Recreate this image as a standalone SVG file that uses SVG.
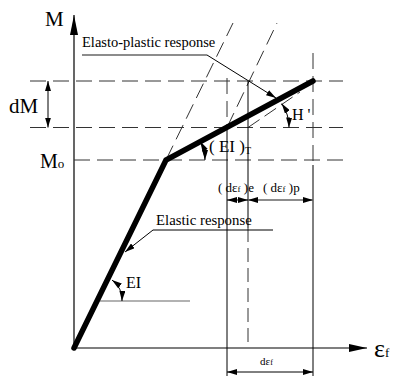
<svg xmlns="http://www.w3.org/2000/svg" width="398" height="377" viewBox="0 0 398 377">
<style>
text{font-family:"Liberation Serif","Times New Roman",serif;fill:#000}
.ax{stroke:#000;stroke-width:1.2;fill:none}
.dash{stroke:#333;stroke-width:1;fill:none;stroke-dasharray:16 7}
.thin{stroke:#000;stroke-width:1;fill:none}
.gray{stroke:#666;stroke-width:1.6;fill:none}
.thick{stroke:#000;stroke-width:5.5;fill:none;stroke-linecap:round;stroke-linejoin:miter}
</style>
<defs>
<marker id="ah" viewBox="0 0 10 6" refX="10" refY="3" markerWidth="10" markerHeight="6" markerUnits="userSpaceOnUse" orient="auto-start-reverse"><path d="M0,0 L10,3 L0,6 z" fill="#000"/></marker>
<marker id="axh" viewBox="0 0 18 8" refX="18" refY="4" markerWidth="18" markerHeight="8" markerUnits="userSpaceOnUse" orient="auto"><path d="M0,0 L18,4 L0,8 z" fill="#000"/></marker>
<marker id="ayh" viewBox="0 0 20 8" refX="20" refY="4" markerWidth="20" markerHeight="8" markerUnits="userSpaceOnUse" orient="auto"><path d="M0,0 L20,4 L0,8 z" fill="#000"/></marker>
</defs>
<g id="connectors">
<!-- axes -->
<line class="ax" x1="74" y1="348" x2="74" y2="15" marker-end="url(#ayh)"/>
<line class="ax" x1="74" y1="348" x2="367" y2="348" marker-end="url(#axh)"/>
<!-- horizontal dashed levels -->
<line class="dash" x1="30" y1="81" x2="343" y2="81"/>
<line class="dash" x1="30" y1="127.5" x2="343" y2="127.5"/>
<line class="dash" x1="74" y1="160" x2="343" y2="160"/>
<!-- dM dimension -->
<line class="thin" x1="48" y1="81" x2="48" y2="127.5" marker-start="url(#ah)" marker-end="url(#ah)"/>
<!-- diagonal dashed elastic slopes -->
<line class="dash" x1="166" y1="160" x2="233" y2="23"/>
<line class="dash" x1="227" y1="127.5" x2="277" y2="23"/>
<!-- tangent dashed for H' -->
<line class="dash" x1="248" y1="127.5" x2="300" y2="92" style="stroke-dasharray:14 6"/>
<!-- verticals -->
<line class="dash" x1="227" y1="78" x2="227" y2="130"/>
<line class="thin" x1="227" y1="130" x2="227" y2="376"/>
<line class="thin" x1="248" y1="81" x2="248" y2="228"/>
<line class="dash" x1="248" y1="228" x2="248" y2="348" style="stroke-dasharray:14 6"/>
<line class="dash" x1="313" y1="53" x2="313" y2="165"/>
<line class="thin" x1="313" y1="165" x2="313" y2="376"/>
<!-- dimension lines -->
<line class="thin" x1="227" y1="200" x2="248" y2="200" marker-start="url(#ah)" marker-end="url(#ah)"/>
<line class="gray" x1="248" y1="200" x2="313" y2="200" style="stroke-width:1.3" marker-start="url(#ah)" marker-end="url(#ah)"/>
<line class="thin" x1="227" y1="372" x2="313" y2="372" marker-start="url(#ah)" marker-end="url(#ah)"/>
<!-- leaders -->
<line class="gray" x1="82" y1="55" x2="207" y2="55"/>
<line class="thin" x1="207" y1="55" x2="276" y2="98" marker-end="url(#ah)"/>
<line class="thin" x1="153" y1="230" x2="273" y2="230"/>
<line class="thin" x1="153" y1="230" x2="125" y2="252" marker-end="url(#ah)"/>
<!-- EI reference line -->
<line class="gray" x1="100" y1="301" x2="190" y2="301" style="stroke-width:1.2"/>
<!-- angle arcs -->
<path class="thin" d="M112,280 A25,25 0 0,1 122,301" marker-start="url(#ah)" marker-end="url(#ah)"/>
<path class="thin" d="M200.4,141.5 A39,39 0 0,1 205,160" marker-start="url(#ah)" marker-end="url(#ah)"/>
<path class="thin" d="M281.7,103.6 A41,41 0 0,1 289,127.5" marker-start="url(#ah)" marker-end="url(#ah)"/>
</g>
<g id="response-curve">
<polyline class="thick" points="74,348 166,160 313,81"/>
</g>
<g id="labels">
<text x="45" y="26" font-size="21">M</text>
<text x="9" y="113" font-size="21">dM</text>
<text x="40" y="168" font-size="20">M<tspan font-size="13">o</tspan></text>
<text x="82" y="47" font-size="14.5">Elasto-plastic response</text>
<text x="156" y="225" font-size="14.8">Elastic response</text>
<text x="126" y="288" font-size="16">EI</text>
<text x="209" y="152" font-size="17">( EI )<tspan font-size="10" dy="2">T</tspan></text>
<text x="292" y="120" font-size="16">H '</text>
<text x="218" y="192" font-size="13">( dε<tspan font-size="9">f</tspan> )e</text>
<text x="263" y="192" font-size="13">( dε<tspan font-size="9">f</tspan> )p</text>
<text x="260" y="365" font-size="11">dε<tspan font-size="8">f</tspan></text>
<text x="374" y="357" font-size="26">ε<tspan font-size="13">f</tspan></text>
</g>
</svg>
